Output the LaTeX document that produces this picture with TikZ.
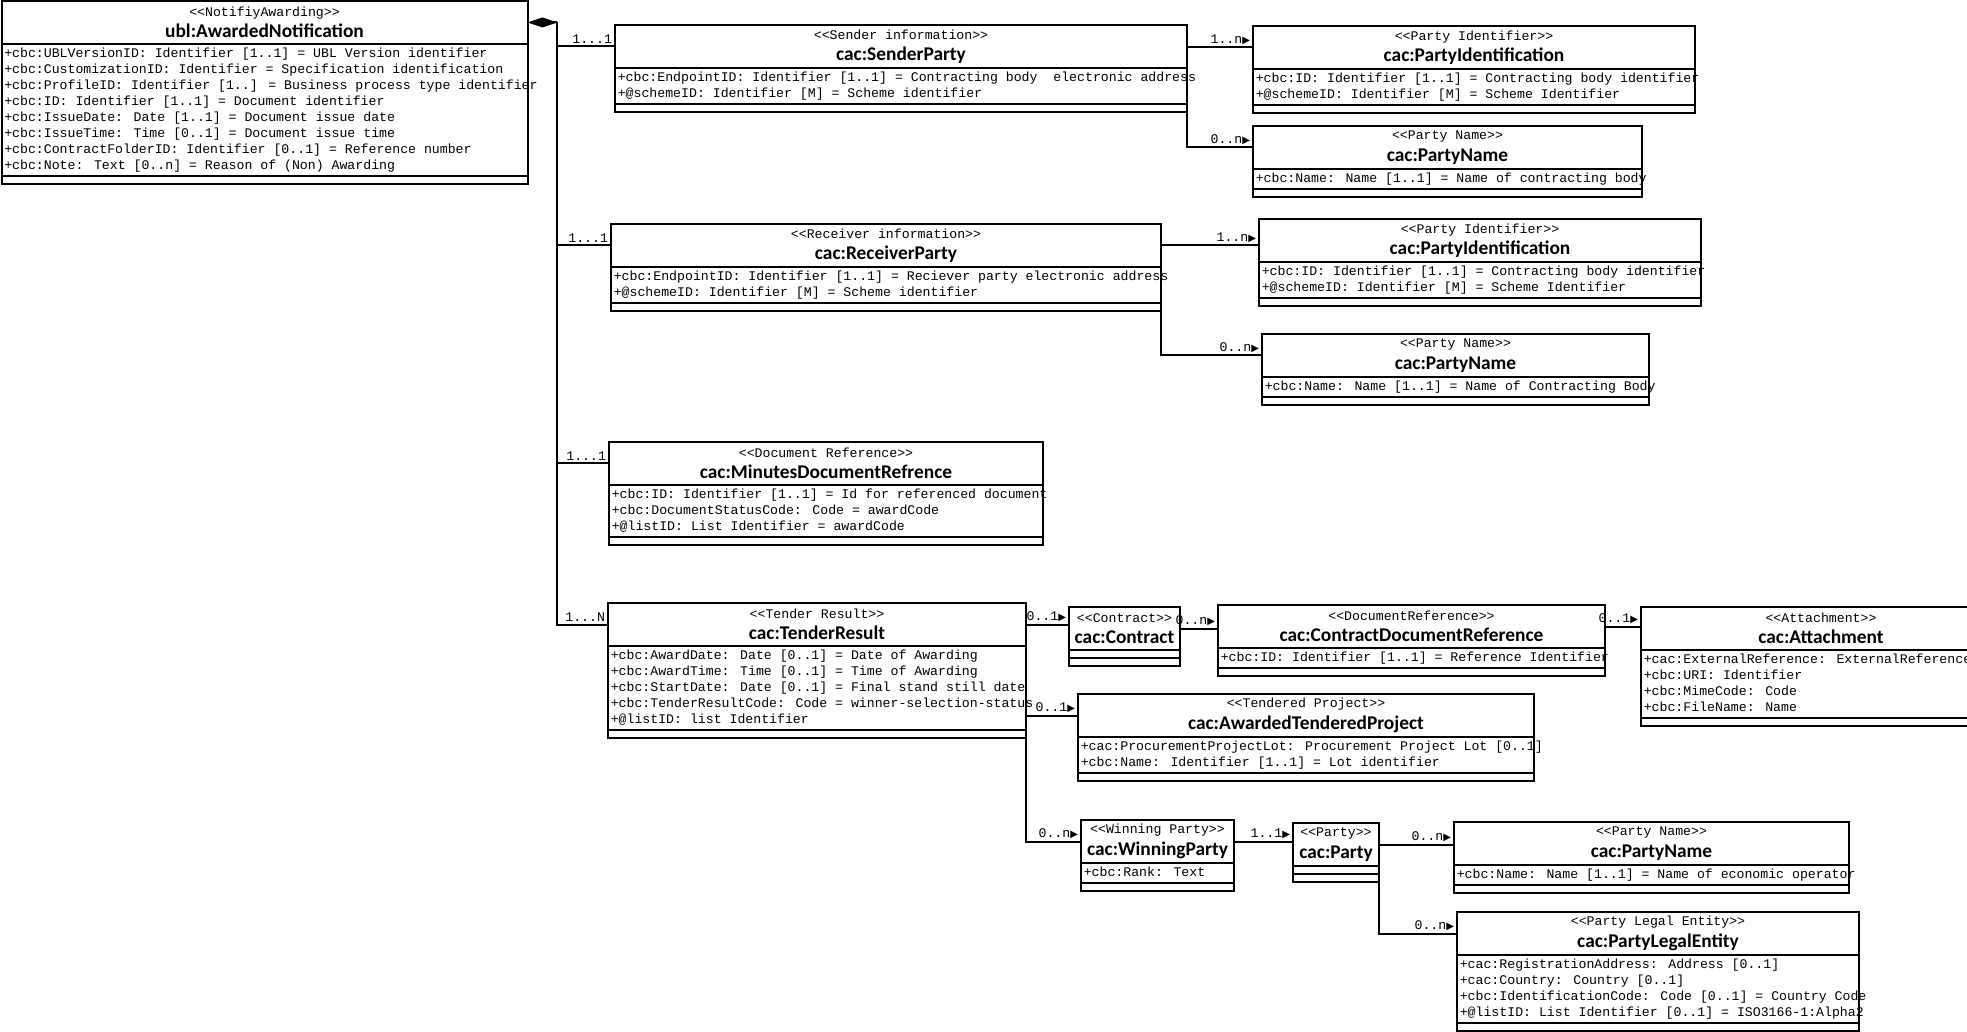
\documentclass[tikz,border=0pt]{standalone}
\usepackage{fontspec}
\usepackage{tikz}
\usetikzlibrary{arrows.meta}
\newfontfamily\umlmono{Liberation Mono}
\newfontfamily\umltitle{Carlito}
\newfontfamily\umlsym{DejaVu Sans}
\newcommand{\stereo}[1]{<\kern0pt<#1>\kern0pt>}
\newcommand{\nav}{{\umlsym\fontsize{5}{5}\selectfont\char"25B6}}
\newcommand{\umlclass}[7]{%
  \node[classhead, minimum width=#3*0.5pt] (#1) at #2 {{\umlmono\mdseries\fontsize{6.6}{8}\selectfont\stereo{#4}}\\#5};
  \node[compart, minimum width=#3*0.5pt, minimum height=#6] (#1-attr) at (#1.south west) {};
  \node[attrtext] (#1-text) at (#1-attr.north west) {\strut#7};
  \node[compart, minimum width=#3*0.5pt, minimum height=4pt] (#1-ops) at (#1-attr.south west) {};
}
\tikzset{
  classhead/.style={draw, line width=1pt, outer sep=0pt, inner xsep=1pt, inner ysep=0pt, minimum height=21.5pt, anchor=north west, align=center, font=\umltitle\bfseries\fontsize{9.7}{10.75}\selectfont},
  compart/.style={draw, line width=1pt, outer sep=0pt, inner sep=0pt, anchor=north west},
  attrtext/.style={anchor=north west, inner xsep=1.2pt, inner ysep=0.8pt, align=left, font=\umlmono\fontsize{6.6}{8}\selectfont},
  mult/.style={anchor=south east, inner sep=1pt, font=\umlmono\fontsize{6.6}{8}\selectfont},
  link/.style={line width=1pt},
  composition/.style={line width=1pt, {Diamond[length=15pt,width=5pt]}-}
}
\begin{document}
\begin{tikzpicture}[x=0.5pt, y=-0.5pt]
\path[use as bounding box, fill=white] (0,0) rectangle (1967,1032);
\umlclass{notif}{(1.5,1)}{526}{NotifiyAwarding}{ubl:AwardedNotification}{66pt}{+cbc:UBLVersionID: Identifier [1..1] = UBL Version identifier\\+cbc:CustomizationID: Identifier = Specification identification\\+cbc:ProfileID: Identifier [1..] = Business process type identifier\\+cbc:ID: Identifier [1..1] = Document identifier\\+cbc:IssueDate: Date [1..1] = Document issue date\\+cbc:IssueTime: Time [0..1] = Document issue time\\+cbc:ContractFolderID: Identifier [0..1] = Reference number\\+cbc:Note: Text [0..n] = Reason of (Non) Awarding}
\umlclass{sender}{(615,25)}{572}{Sender information}{cac:SenderParty}{18pt}{+cbc:EndpointID: Identifier [1..1] = Contracting body\ \ electronic address\\+@schemeID: Identifier [M] = Scheme identifier}
\umlclass{senderid}{(1253,26)}{442}{Party Identifier}{cac:PartyIdentification}{18pt}{+cbc:ID: Identifier [1..1] = Contracting body identifier\\+@schemeID: Identifier [M] = Scheme Identifier}
\umlclass{sendername}{(1253,126)}{389}{Party Name}{cac:PartyName}{10pt}{+cbc:Name: Name [1..1] = Name of contracting body}
\umlclass{receiver}{(611,224)}{550}{Receiver information}{cac:ReceiverParty}{18pt}{+cbc:EndpointID: Identifier [1..1] = Reciever party electronic address\\+@schemeID: Identifier [M] = Scheme identifier}
\umlclass{receiverid}{(1259,219)}{442}{Party Identifier}{cac:PartyIdentification}{18pt}{+cbc:ID: Identifier [1..1] = Contracting body identifier\\+@schemeID: Identifier [M] = Scheme Identifier}
\umlclass{receivername}{(1262,334)}{387}{Party Name}{cac:PartyName}{10pt}{+cbc:Name: Name [1..1] = Name of Contracting Body}
\umlclass{minutes}{(609,442)}{434}{Document Reference}{cac:MinutesDocumentRefrence}{26pt}{+cbc:ID: Identifier [1..1] = Id for referenced document\\+cbc:DocumentStatusCode: Code = awardCode\\+@listID: List Identifier = awardCode}
\umlclass{tender}{(608,603)}{418}{Tender Result}{cac:TenderResult}{42pt}{+cbc:AwardDate: Date [0..1] = Date of Awarding\\+cbc:AwardTime: Time [0..1] = Time of Awarding\\+cbc:StartDate: Date [0..1] = Final stand still date\\+cbc:TenderResultCode: Code = winner-selection-status\\+@listID: list Identifier}
\umlclass{contract}{(1069,607)}{111}{Contract}{cac:Contract}{3.75pt}{}
\umlclass{contractdoc}{(1218,605)}{387}{DocumentReference}{cac:ContractDocumentReference}{10pt}{+cbc:ID: Identifier [1..1] = Reference Identifier}
\umlclass{attachment}{(1641,607)}{360}{Attachment}{cac:Attachment}{34pt}{+cac:ExternalReference: ExternalReference\\+cbc:URI: Identifier\\+cbc:MimeCode: Code\\+cbc:FileName: Name}
\umlclass{project}{(1078,694)}{456}{Tendered Project}{cac:AwardedTenderedProject}{18pt}{+cac:ProcurementProjectLot: Procurement Project Lot [0..1]\\+cbc:Name: Identifier [1..1] = Lot identifier}
\umlclass{winner}{(1081,820)}{153}{Winning Party}{cac:WinningParty}{10pt}{+cbc:Rank: Text}
\umlclass{party}{(1293,823)}{86}{Party}{cac:Party}{3.75pt}{}
\umlclass{partyname}{(1454,822)}{395}{Party Name}{cac:PartyName}{10pt}{+cbc:Name: Name [1..1] = Name of economic operator}
\umlclass{legal}{(1457,912)}{402}{Party Legal Entity}{cac:PartyLegalEntity}{34pt}{+cac:RegistrationAddress: Address [0..1]\\+cac:Country: Country [0..1]\\+cbc:IdentificationCode: Code [0..1] = Country Code\\+@listID: List Identifier [0..1] = ISO3166-1:Alpha2}
\coordinate (trunk) at (557,22.5);
\draw[composition] (notif.east) -- (trunk);
\draw[link] (trunk) |- (sender.west) node[mult] (m-sender) {1...1};
\draw[link] (trunk) |- (receiver.west) node[mult] (m-receiver) {1...1};
\draw[link] (trunk) |- (minutes.west) node[mult] (m-minutes) {1...1};
\draw[link] (trunk) |- (tender.west) node[mult] (m-tender) {1...N};
\draw[link] (sender.east |- senderid.west) -- (senderid.west) node[mult] (m-senderid) {1..n\nav};
\draw[link] (sender.east) |- (sendername.west) node[mult] (m-sendername) {0..n\nav};
\draw[link] (receiver.east) -- (receiver.east -| receiverid.west) node[mult] (m-receiverid) {1..n\nav};
\draw[link] (receiver.east) |- (receivername.west) node[mult] (m-receivername) {0..n\nav};
\draw[link] (tender.east) -- (tender.east -| contract.west) node[mult] (m-contract) {0..1\nav};
\draw[link] (tender.east) |- (project.west) node[mult] (m-project) {0..1\nav};
\draw[link] (tender.east) |- (winner.west) node[mult] (m-winner) {0..n\nav};
\draw[link] (contract.east) -- (contract.east -| contractdoc.west) node[mult] (m-contractdoc) {0..n\nav};
\draw[link] (contractdoc.east) -- (contractdoc.east -| attachment.west) node[mult] (m-attachment) {0..1\nav};
\draw[link] (winner.east) -- (winner.east -| party.west) node[mult] (m-party) {1..1\nav};
\draw[link] (party.east) -- (party.east -| partyname.west) node[mult] (m-partyname) {0..n\nav};
\draw[link] (party.east) |- (legal.west) node[mult] (m-legal) {0..n\nav};
\end{tikzpicture}
\end{document}
